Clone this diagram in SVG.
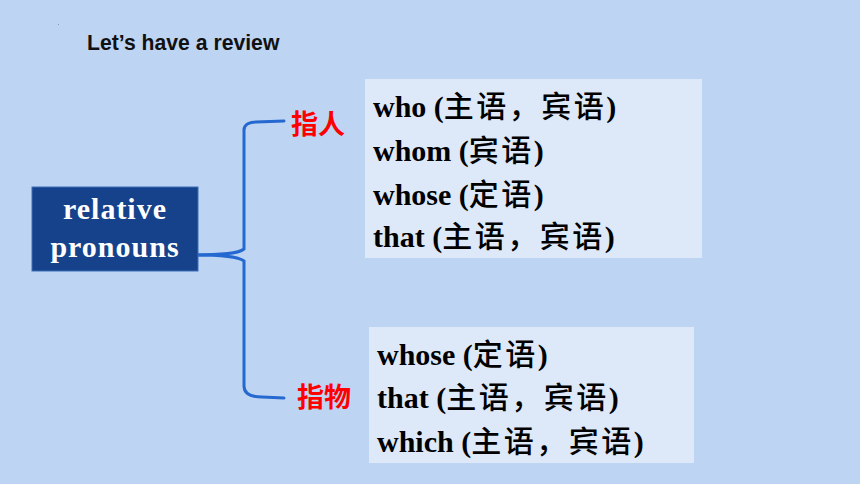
<svg xmlns="http://www.w3.org/2000/svg" width="860" height="484" viewBox="0 0 860 484">
<style>
.bg{fill:#BED4F3}
.title{font-family:"Liberation Sans",Arial,sans-serif;font-weight:bold;font-size:21.2px;fill:#111}
.main{fill:#15428A;stroke:#3F6FB8;stroke-width:1}
.mt{font-family:"Liberation Serif",serif;font-weight:bold;font-size:30px;letter-spacing:1px;fill:#fff;text-anchor:middle}
.lbl{font-family:"Noto Sans CJK SC",sans-serif;font-weight:bold;font-size:27px;fill:#FF0000}
.box{fill:#DDE8F8}
.it{font-family:"Liberation Serif","Noto Sans CJK SC",serif;font-weight:bold;font-size:30px;fill:#000}
.cj{font-family:"Noto Sans CJK SC",sans-serif;font-weight:500;font-size:30px;letter-spacing:2.5px}
.con{fill:none;stroke:#2468D0;stroke-width:3;stroke-linecap:round}
</style>
<rect class="bg" x="0" y="0" width="860" height="484"/>
<rect x="58" y="24" width="1" height="1" fill="#8899aa"/>
<text class="title" x="87" y="50">Let’s have a review</text>
<g id="connectors">
<path class="con" d="M194,255 C220,255 238,254 244,249 L244,130 C244,124 250,122 256,122 L284,121"/>
<path class="con" d="M194,255 C220,255 238,256 244,261 L244,386 C244,394 252,397 262,397 L284,398"/>
</g>
<g id="node-root">
<rect class="main" x="32" y="187" width="166" height="84"/>
<text class="mt" x="115" y="219">relative</text>
<text class="mt" x="115" y="257">pronouns</text>
</g>
<g id="node-person">
<text class="lbl" x="291" y="134">指人</text>
</g>
<g id="node-thing">
<text class="lbl" x="297" y="407">指物</text>
</g>
<g id="node-person-list">
<rect class="box" x="365" y="79" width="337" height="179"/>
<text class="it" x="373" y="117">who (<tspan class="cj">主语，宾语</tspan>)</text>
<text class="it" x="373" y="161">whom (<tspan class="cj">宾语</tspan>)</text>
<text class="it" x="373" y="205">whose (<tspan class="cj">定语</tspan>)</text>
<text class="it" x="373" y="247">that (<tspan class="cj">主语，宾语</tspan>)</text>
</g>
<g id="node-thing-list">
<rect class="box" x="369" y="327" width="325" height="136"/>
<text class="it" x="377" y="365">whose (<tspan class="cj">定语</tspan>)</text>
<text class="it" x="377" y="408">that (<tspan class="cj">主语，宾语</tspan>)</text>
<text class="it" x="377" y="452">which (<tspan class="cj">主语，宾语</tspan>)</text>
</g>
</svg>
